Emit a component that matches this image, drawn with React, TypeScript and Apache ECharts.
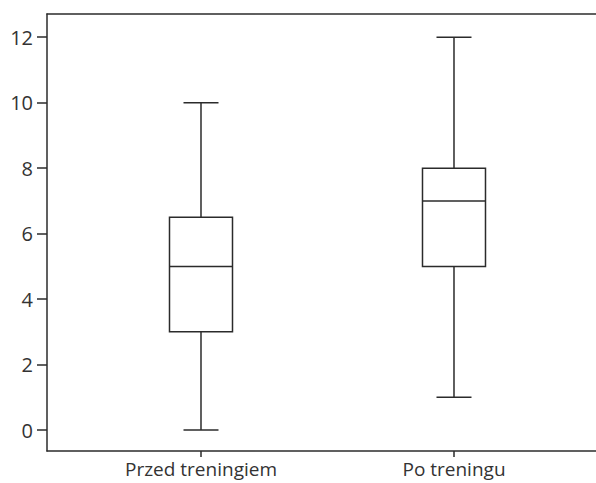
import React, { useEffect, useRef } from "react";
import * as echarts from "echarts";

const categories = ["Przed treningiem", "Po treningu"];
const positions = [1, 2];
const whiskerMin = [0, 1];
const q1 = [3, 5];
const median = [5, 7];
const q3 = [6.5, 8];
const whiskerMax = [10, 12];
const yTicks = [0, 2, 4, 6, 8, 10, 12];

const LINE = "#2b2b2b";
const FONT = "Open Sans";

export default function App() {
  const ref = useRef<HTMLDivElement>(null);
  useEffect(() => {
    if (!ref.current) return;
    const chart = echarts.init(ref.current, null, { renderer: "svg" });
    const data = positions.map((p, i) => [p, whiskerMin[i], q1[i], median[i], q3[i], whiskerMax[i]]);
    const xMin = 0.3913;
    const xMax = 2.5613;
    chart.setOption({
      animation: false,
      grid: { left: 47, right: 0, top: 14, bottom: 32 },
      xAxis: [
        {
          type: "value",
          min: xMin,
          max: xMax,
          splitLine: { show: false },
          axisLine: { show: true, onZero: false, lineStyle: { color: LINE, width: 1.5 } },
          axisTick: { show: true, customValues: positions, length: 6, lineStyle: { color: LINE, width: 1.5 } },
          axisLabel: {
            customValues: positions,
            formatter: (v: number) => categories[Math.round(v) - 1] ?? "",
            color: "#333",
            fontFamily: FONT,
            fontSize: 19,
            margin: 8,
          },
        },
        {
          type: "value",
          position: "top",
          min: xMin,
          max: xMax,
          splitLine: { show: false },
          axisLine: { show: true, onZero: false, lineStyle: { color: LINE, width: 1.5 } },
          axisTick: { show: false },
          axisLabel: { show: false },
        },
      ],
      yAxis: {
        type: "value",
        min: -0.64,
        max: 12.71,
        splitLine: { show: false },
        axisLine: { show: true, onZero: false, lineStyle: { color: LINE, width: 1.5 } },
        axisTick: { show: true, customValues: yTicks, length: 10, lineStyle: { color: LINE, width: 1.5 } },
        axisLabel: {
          customValues: yTicks,
          color: "#333",
          fontFamily: FONT,
          fontSize: 20,
          margin: 14,
        },
      },
      series: [
        {
          type: "custom",
          xAxisIndex: 0,
          yAxisIndex: 0,
          data,
          encode: { x: 0, y: [1, 2, 3, 4, 5] },
          renderItem: (params: any, api: any) => {
            const x = api.value(0);
            const pMin = api.coord([x, api.value(1)]);
            const pQ1 = api.coord([x, api.value(2)]);
            const pMed = api.coord([x, api.value(3)]);
            const pQ3 = api.coord([x, api.value(4)]);
            const pMax = api.coord([x, api.value(5)]);
            const cx = pMin[0];
            const bw = 63;
            const cw = 35;
            const style = { stroke: LINE, lineWidth: 1.5, fill: "none" };
            return {
              type: "group",
              children: [
                { type: "line", shape: { x1: cx, y1: pMax[1], x2: cx, y2: pQ3[1] }, style },
                { type: "line", shape: { x1: cx, y1: pQ1[1], x2: cx, y2: pMin[1] }, style },
                { type: "line", shape: { x1: cx - cw / 2, y1: pMax[1], x2: cx + cw / 2, y2: pMax[1] }, style },
                { type: "line", shape: { x1: cx - cw / 2, y1: pMin[1], x2: cx + cw / 2, y2: pMin[1] }, style },
                {
                  type: "rect",
                  shape: { x: cx - bw / 2, y: pQ3[1], width: bw, height: pQ1[1] - pQ3[1] },
                  style: { stroke: LINE, lineWidth: 1.5, fill: "#fff" },
                },
                { type: "line", shape: { x1: cx - bw / 2, y1: pMed[1], x2: cx + bw / 2, y2: pMed[1] }, style },
              ],
            };
          },
        },
      ],
    });
    return () => chart.dispose();
  }, []);
  return <div ref={ref} style={{ width: 596, height: 483, position: "absolute", left: 0, top: 0 }} />;
}
